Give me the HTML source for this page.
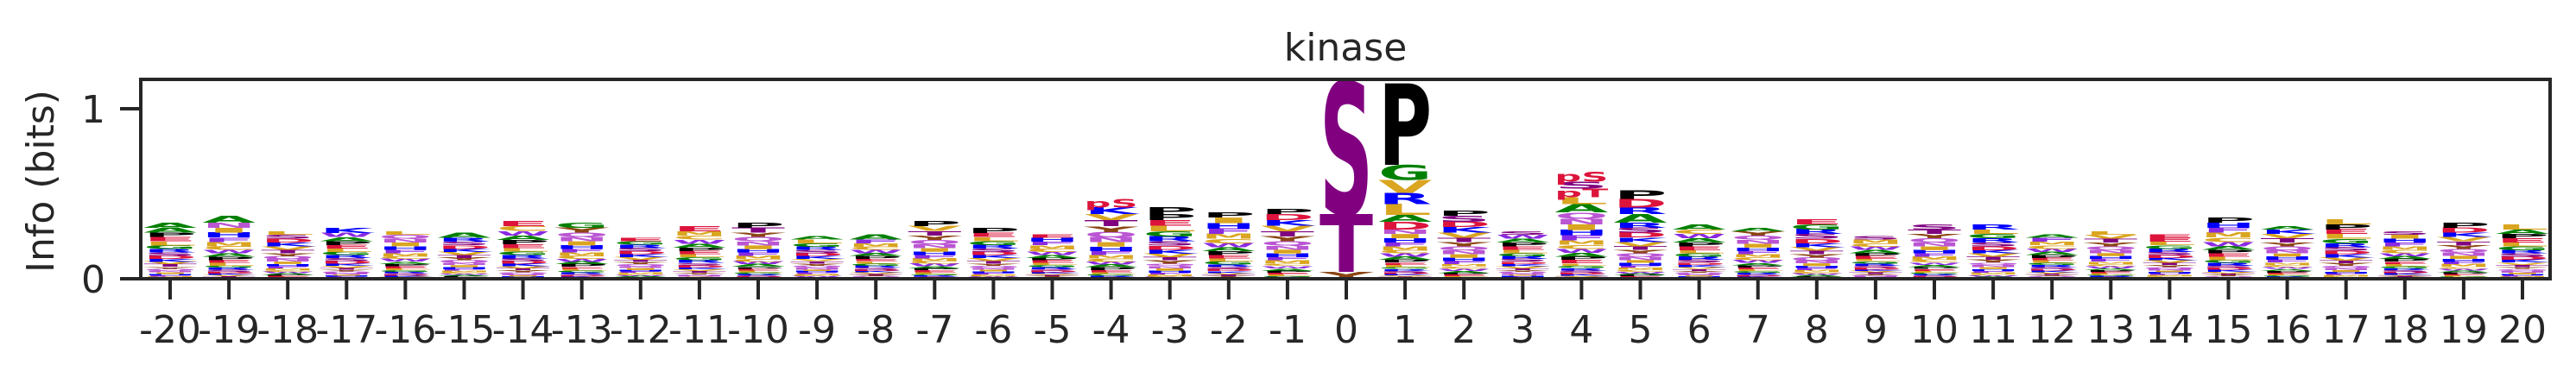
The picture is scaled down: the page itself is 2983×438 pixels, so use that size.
<!DOCTYPE html>
<html><head><meta charset="utf-8"><style>
html,body{margin:0;padding:0;background:#fff;}
svg{display:block;}
text{font-family:"DejaVu Sans","Liberation Sans",sans-serif;}
</style></head><body>
<svg id="chart" width="2983" height="438" viewBox="0 0 2983 438" xmlns="http://www.w3.org/2000/svg">
<text x="1558" y="70" font-size="44" text-anchor="middle" fill="#262626">kinase</text>
<text transform="translate(62,210) rotate(-90)" font-size="44" text-anchor="middle" fill="#262626">Info (bits)</text>
<g id="logo"></g>
<g id="axes"></g>
</svg>
<script>
// ---- data ----
const positions = [-20,-19,-18,-17,-16,-15,-14,-13,-12,-11,-10,-9,-8,-7,-6,-5,-4,-3,-2,-1,0,1,2,3,4,5,6,7,8,9,10,11,12,13,14,15,16,17,18,19,20];
const totalBits = [0.33,0.37,0.28,0.30,0.28,0.27,0.34,0.33,0.24,0.31,0.33,0.25,0.26,0.34,0.30,0.26,0.47,0.42,0.39,0.41,1.16,1.15,0.40,0.28,0.63,0.52,0.32,0.30,0.35,0.25,0.32,0.32,0.26,0.28,0.26,0.36,0.31,0.35,0.28,0.33,0.32];
const topLetter = ['A','A','L','K','L','A','E','G','E','E','P','A','A','P','P','E','pS','P','P','P','S','P','P','S','pS','P','A','A','E','S','S','R','A','L','E','P','A','L','S','P','L'];
const topBits = [0.03,0.04,0.02,0.03,0.02,0.03,0.03,0.03,0.02,0.03,0.03,0.02,0.03,0.03,0.03,0.02,0.05,0.04,0.03,0.03,0.78,0.48,0.03,0.02,0.06,0.05,0.03,0.02,0.03,0.02,0.03,0.03,0.02,0.02,0.02,0.03,0.02,0.03,0.02,0.03,0.03];
// explicit upper stacks (bottom -> top) for strongly informative positions
const pos0Letters = ['Y','T'];
const pos0Bits = [0.04,0.34];
const pos1Letters = ['D','A','L','R','V','G'];
const pos1Bits = [0.045,0.04,0.065,0.065,0.075,0.09];
const pos4Letters = ['A','L','pT','S'];
const pos4Bits = [0.05,0.04,0.05,0.04];
const pos5Letters = ['A','R','D'];
const pos5Bits = [0.05,0.04,0.05];
// background letter palette (bottom -> top order cycles)
const bgLetters = ['W','C','M','F','H','I','N','Q','Y','T','V','K','D','S','R','G','L','E','P','A'];
const bgWeights = [1,1,1.5,2,2,2.5,3,3,3,4,4,4.5,5,5,5.5,6,6.5,7,7,7.5];

const colors = {A:'#008000',G:'#008000',P:'#000000',L:'#daa520',V:'#daa520',I:'#daa520',M:'#daa520',
 R:'#0000ff',K:'#0000ff',H:'#0000ff',D:'#dc143c',E:'#dc143c',S:'#800080',T:'#800080',pS:'#dc143c',pT:'#dc143c',
 Q:'#ba55d3',N:'#ba55d3',F:'#8a2be2',W:'#8a2be2',Y:'#8b4513',C:'#daa520'};

// ---- scales ----
const X0 = 197, DX = 68.1, Y0 = 323, PXBIT = 197;
function xScale(p){ return X0 + (p + 20) * DX; }
function yScale(v){ return Y0 - v * PXBIT; }
const NS = 'http://www.w3.org/2000/svg';
const logo = document.getElementById('logo');
const W = 62;

function drawLetter(letter, cx, bottomBits, bits, idx){
  if (bits <= 0) return;
  const yb = yScale(bottomBits), h = bits * PXBIT;
  const g = document.createElementNS(NS, 'g');
  
  
  g.setAttribute('transform', 'translate(' + (cx - W/2) + ',' + yb + ') scale(1,' + (h / 73) + ')');
  const t = document.createElementNS(NS, 'text');
  t.setAttribute('x', 0); t.setAttribute('y', 0);
  t.setAttribute('font-size', 100);
  t.setAttribute('font-weight', 'bold');
  t.setAttribute('textLength', W);
  t.setAttribute('lengthAdjust', 'spacingAndGlyphs');
  t.setAttribute('fill', colors[letter] || '#888');
  t.textContent = letter;
  g.appendChild(t);
  logo.appendChild(g);
}

positions.forEach((p, i) => {
  const cx = xScale(p);
  let upL = [], upB = [];
  if (p === 0){ upL = pos0Letters; upB = pos0Bits; }
  else if (p === 1){ upL = pos1Letters; upB = pos1Bits; }
  else if (p === 4){ upL = pos4Letters; upB = pos4Bits; }
  else if (p === 5){ upL = pos5Letters; upB = pos5Bits; }
  const upSum = upB.reduce((a,b)=>a+b,0);
  let bgTotal = totalBits[i] - topBits[i] - upSum;
  if (p === 0) bgTotal = 0;
  let cum = 0;
  if (bgTotal > 0){
    const wsum = bgWeights.reduce((a,b)=>a+b,0);
    const off = (i * 7) % bgLetters.length;
    for (let k = 0; k < bgLetters.length; k++){
      const L = bgLetters[(k + off) % bgLetters.length];
      const b = bgTotal * bgWeights[k] / wsum;
      drawLetter(L, cx, cum, b, p);
      cum += b;
    }
  }
  upL.forEach((L, k) => { drawLetter(L, cx, cum, upB[k], p); cum += upB[k]; });
  drawLetter(topLetter[i], cx, cum, topBits[i], p);
});

// ---- axes ----
const axes = document.getElementById('axes');
const frame = document.createElementNS(NS, 'rect');


frame.setAttribute('x', 163); frame.setAttribute('y', 92);
frame.setAttribute('width', 2953 - 163); frame.setAttribute('height', 323 - 92);
frame.setAttribute('fill', 'none'); frame.setAttribute('stroke', '#262626'); frame.setAttribute('stroke-width', 4);
axes.appendChild(frame);

const yTicks = [0, 1];
yTicks.forEach(v => {
  const y = yScale(v);
  const ln = document.createElementNS(NS, 'line');
  
  
  ln.setAttribute('x1', 139); ln.setAttribute('x2', 163); ln.setAttribute('y1', y); ln.setAttribute('y2', y);
  ln.setAttribute('stroke', '#262626'); ln.setAttribute('stroke-width', 4);
  axes.appendChild(ln);
  const t = document.createElementNS(NS, 'text');
  
  
  t.setAttribute('x', 122); t.setAttribute('y', y + 16);
  t.setAttribute('font-size', 44); t.setAttribute('text-anchor', 'end'); t.setAttribute('fill', '#262626');
  t.textContent = String(v);
  axes.appendChild(t);
});

positions.forEach(p => {
  const x = xScale(p);
  const ln = document.createElementNS(NS, 'line');
  
  
  ln.setAttribute('x1', x); ln.setAttribute('x2', x); ln.setAttribute('y1', 323); ln.setAttribute('y2', 347);
  ln.setAttribute('stroke', '#262626'); ln.setAttribute('stroke-width', 4);
  axes.appendChild(ln);
  const t = document.createElementNS(NS, 'text');
  
  
  t.setAttribute('x', x); t.setAttribute('y', 397);
  t.setAttribute('font-size', 44); t.setAttribute('text-anchor', 'middle'); t.setAttribute('fill', '#262626');
  t.textContent = String(p);
  axes.appendChild(t);
});
</script>
</body></html>
